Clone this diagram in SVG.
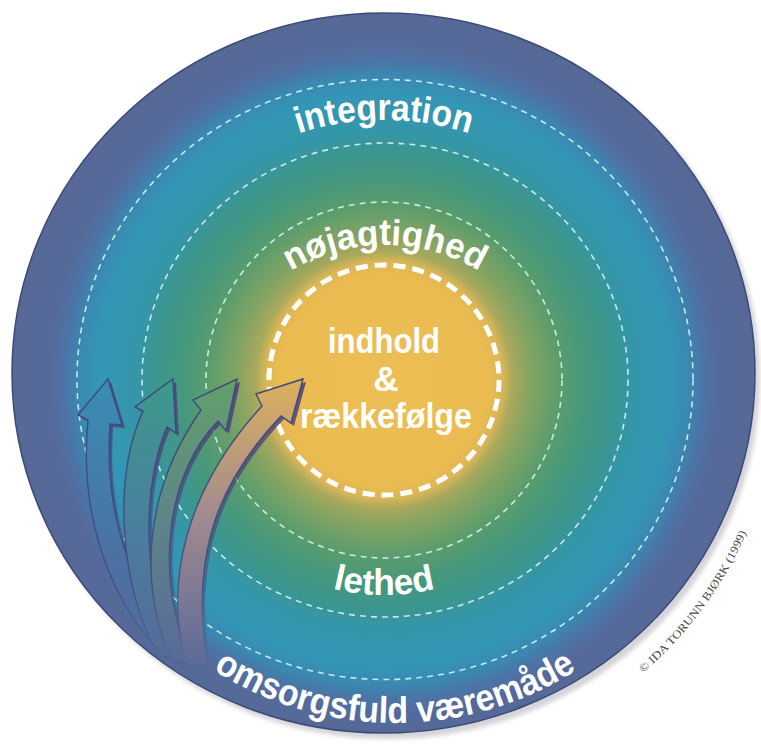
<svg xmlns="http://www.w3.org/2000/svg" width="761" height="749" viewBox="0 0 761 749">
<defs>
<radialGradient id="bg" gradientUnits="userSpaceOnUse" cx="384" cy="380" r="372">
<stop offset="0" stop-color="#edbe54"/>
<stop offset="0.285" stop-color="#eabb50"/>
<stop offset="0.318" stop-color="#dbb656"/>
<stop offset="0.345" stop-color="#aaa95c"/>
<stop offset="0.39" stop-color="#86a462"/>
<stop offset="0.47" stop-color="#5c9d6c"/>
<stop offset="0.54" stop-color="#46987c"/>
<stop offset="0.62" stop-color="#3b9690"/>
<stop offset="0.665" stop-color="#3596a8"/>
<stop offset="0.77" stop-color="#3396b6"/>
<stop offset="0.82" stop-color="#3a88b0"/>
<stop offset="0.86" stop-color="#4c74a6"/>
<stop offset="0.9" stop-color="#556a9a"/>
<stop offset="1" stop-color="#566896"/>
</radialGradient>
<linearGradient id="a1" gradientUnits="userSpaceOnUse" x1="0" y1="380" x2="0" y2="660">
<stop offset="0" stop-color="#3a8db5"/>
<stop offset="0.6" stop-color="#4a72a3"/>
<stop offset="1" stop-color="#55699a"/>
</linearGradient>
<linearGradient id="a2" gradientUnits="userSpaceOnUse" x1="0" y1="380" x2="0" y2="660">
<stop offset="0" stop-color="#3c9a8c"/>
<stop offset="0.5" stop-color="#4a809e"/>
<stop offset="1" stop-color="#566a9a"/>
</linearGradient>
<linearGradient id="a3" gradientUnits="userSpaceOnUse" x1="0" y1="380" x2="0" y2="660">
<stop offset="0" stop-color="#62a06a"/>
<stop offset="0.5" stop-color="#5e8588"/>
<stop offset="1" stop-color="#596b98"/>
</linearGradient>
<linearGradient id="a4" gradientUnits="userSpaceOnUse" x1="0" y1="380" x2="0" y2="665">
<stop offset="0" stop-color="#dcb05c"/>
<stop offset="0.45" stop-color="#a48c8e"/>
<stop offset="1" stop-color="#5d6a98"/>
</linearGradient>
<linearGradient id="edge" gradientUnits="userSpaceOnUse" x1="0" y1="380" x2="0" y2="668">
<stop offset="0" stop-color="#3e4a7c" stop-opacity="1"/>
<stop offset="0.7" stop-color="#3e4a7c" stop-opacity="0.8"/>
<stop offset="1" stop-color="#3e4a7c" stop-opacity="0"/>
</linearGradient>
<linearGradient id="shade" gradientUnits="userSpaceOnUse" x1="0" y1="380" x2="0" y2="668">
<stop offset="0" stop-color="#4d4278" stop-opacity="0.9"/>
<stop offset="0.7" stop-color="#4d4278" stop-opacity="0.5"/>
<stop offset="1" stop-color="#4d4278" stop-opacity="0"/>
</linearGradient>
<filter id="blur" x="-5%" y="-5%" width="110%" height="110%"><feGaussianBlur stdDeviation="2"/></filter>
<path id="pInt" d="M 106 398 A 278 278 0 0 1 662 398"/>
<path id="pNoj" d="M 202 428 A 183 183 0 0 1 568 428"/>
<path id="pLet" d="M 169 380 A 215 215 0 0 0 599 380"/>
<path id="pOms" d="M 57 385 A 338 338 0 0 0 733 385"/>
<path id="pCopy" d="M 643 673 A 395 395 0 0 0 753 517"/>
</defs>
<style>
.thin{fill:none;stroke:#d6f3f2;stroke-width:1.6;stroke-dasharray:6 5;opacity:0.9}
.thick{fill:none;stroke:#ffffff;stroke-width:5;stroke-dasharray:12 7}
.lbl{fill:#ffffff;font-family:"Liberation Sans",Arial,sans-serif;font-weight:bold}
.arrow{stroke:url(#edge);stroke-width:1.5;stroke-linejoin:miter}
.shadow{fill:url(#shade)}
.copy{fill:#4a4a4a;font-family:"Liberation Serif","Times New Roman",serif;font-size:11.5px}
</style>
<g id="background">
<ellipse cx="388" cy="378" rx="372" ry="361" fill="#d4d4d8" filter="url(#blur)"/>
<ellipse cx="383.5" cy="373" rx="371.5" ry="360" fill="url(#bg)" stroke="#3c4a78" stroke-width="1.5"/>
</g>
<g id="ring-outer">
<ellipse class="thin" cx="385" cy="379.5" rx="308" ry="300"/>
</g>
<g id="ring-second">
<ellipse class="thin" cx="385" cy="380" rx="243" ry="237"/>
</g>
<g id="ring-third">
<circle class="thin" cx="384" cy="380" r="178"/>
</g>
<g id="ring-center">
<circle class="thick" cx="384" cy="380" r="115"/>
</g>
<g id="arrows">
<path class="shadow" transform="translate(3,3)" d="M 170 662 C 100 595, 80 500, 88 420 L 78 415 L 108 379 L 122 425 L 110 424 C 105 500, 120 575, 186 660 Z"/>
<path class="arrow" fill="url(#a1)" d="M 170 662 C 100 595, 80 500, 88 420 L 78 415 L 108 379 L 122 425 L 110 424 C 105 500, 120 575, 186 660 Z"/>
<path class="shadow" transform="translate(3,3)" d="M 158 655 C 120 585, 112 480, 143 411 L 135 407 L 173 379 L 176 433 L 167 427 C 148 470, 135 565, 176 658 Z"/>
<path class="arrow" fill="url(#a2)" d="M 158 655 C 120 585, 112 480, 143 411 L 135 407 L 173 379 L 176 433 L 167 427 C 148 470, 135 565, 176 658 Z"/>
<path class="shadow" transform="translate(3,3)" d="M 172 660 C 142 595, 138 500, 201 410 L 193 400 L 237 379 L 226 431 L 218 421 C 170 470, 152 565, 190 663 Z"/>
<path class="arrow" fill="url(#a3)" d="M 172 660 C 142 595, 138 500, 201 410 L 193 400 L 237 379 L 226 431 L 218 421 C 170 470, 152 565, 190 663 Z"/>
<path class="shadow" transform="translate(3,3)" d="M 187 664 C 163 585, 185 490, 262 406 L 256 394 L 303 379 L 291 423 L 281 416 C 222 478, 188 550, 208 667 Z"/>
<path class="arrow" fill="url(#a4)" d="M 187 664 C 163 585, 185 490, 262 406 L 256 394 L 303 379 L 291 423 L 281 416 C 222 478, 188 550, 208 667 Z"/>
</g>
<g id="label-integration">
<text class="lbl" font-size="37"><textPath href="#pInt" startOffset="50%" text-anchor="middle" textLength="174" lengthAdjust="spacingAndGlyphs">integration</textPath></text>
</g>
<g id="label-nojagtighed">
<text class="lbl" font-size="36"><textPath href="#pNoj" startOffset="50%" text-anchor="middle" textLength="198" lengthAdjust="spacingAndGlyphs">nøjagtighed</textPath></text>
</g>
<g id="label-lethed">
<text class="lbl" font-size="36"><textPath href="#pLet" startOffset="50%" text-anchor="middle" textLength="104" lengthAdjust="spacingAndGlyphs">lethed</textPath></text>
</g>
<g id="label-omsorg">
<text class="lbl" font-size="37"><textPath href="#pOms" startOffset="50%" text-anchor="middle" textLength="384" lengthAdjust="spacingAndGlyphs">omsorgsfuld væremåde</textPath></text>
</g>
<g id="label-center">
<text class="lbl" font-size="35" x="384" y="353" text-anchor="middle" textLength="112" lengthAdjust="spacingAndGlyphs">indhold</text>
<text class="lbl" font-size="35" x="386" y="391" text-anchor="middle">&amp;</text>
<text class="lbl" font-size="35" x="386" y="428" text-anchor="middle" textLength="172" lengthAdjust="spacingAndGlyphs">rækkefølge</text>
</g>
<g id="copyright">
<text class="copy"><textPath href="#pCopy" textLength="176" lengthAdjust="spacingAndGlyphs">© IDA TORUNN BJØRK (1999)</textPath></text>
</g>
</svg>
